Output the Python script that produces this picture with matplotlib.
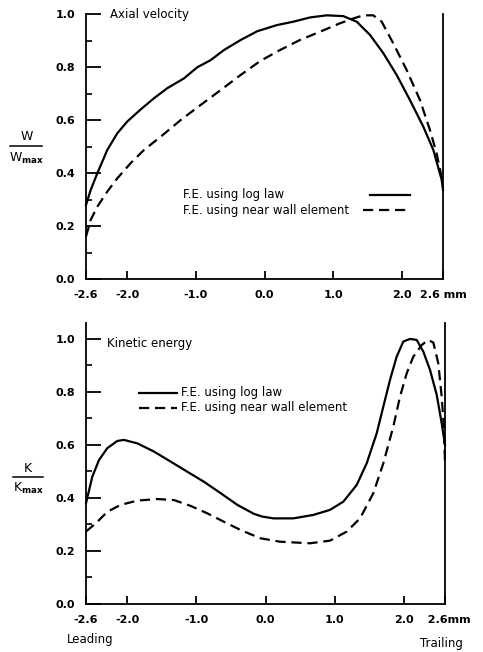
import numpy as np
import matplotlib
matplotlib.use("Agg")
import matplotlib.pyplot as plt
from matplotlib.lines import Line2D

plt.rcParams['font.family'] = ['DejaVu Sans']
plt.rcParams['mathtext.fontset'] = 'dejavusans'
plt.rcParams['mathtext.default'] = 'regular'

# ---------------- data ----------------
# Axial velocity, F.E. using log law
w_log_x = [-2.6, -2.532, -2.435, -2.29, -2.144, -2.0, -1.803, -1.61, -1.416, -1.173,
           -0.979, -0.784, -0.59, -0.347, -0.105, 0.178, 0.42, 0.663, 0.906, 1.148,
           1.343, 1.537, 1.731, 1.925, 2.119, 2.313, 2.459, 2.581, 2.6]
w_log_y = [0.279, 0.336, 0.399, 0.487, 0.55, 0.594, 0.64, 0.682, 0.72, 0.757,
           0.799, 0.826, 0.864, 0.902, 0.935, 0.958, 0.971, 0.987, 0.995, 0.992,
           0.971, 0.921, 0.852, 0.77, 0.675, 0.575, 0.487, 0.374, 0.336]
# Axial velocity, F.E. using near wall element
w_nw_x = [-2.6, -2.532, -2.435, -2.29, -2.144, -1.95, -1.755, -1.512, -1.22, -0.929,
          -0.638, -0.347, -0.06, 0.226, 0.517, 0.808, 1.1, 1.294, 1.439, 1.585,
          1.707, 1.876, 2.07, 2.265, 2.41, 2.507, 2.6]
w_nw_y = [0.16, 0.223, 0.273, 0.33, 0.38, 0.437, 0.487, 0.537, 0.60, 0.657,
          0.713, 0.77, 0.823, 0.864, 0.902, 0.933, 0.965, 0.983, 0.995, 0.995,
          0.971, 0.889, 0.789, 0.675, 0.562, 0.474, 0.361]

# Kinetic energy, F.E. using log law
k_log_x = [-2.6, -2.509, -2.412, -2.291, -2.147, -2.05, -1.857, -1.615, -1.373, -1.133,
           -0.891, -0.649, -0.408, -0.167, -0.05, 0.113, 0.403, 0.692, 0.934, 1.127,
           1.321, 1.466, 1.611, 1.707, 1.803, 1.90, 1.996, 2.093, 2.19, 2.286,
           2.383, 2.48, 2.552, 2.6]
k_log_y = [0.38, 0.48, 0.543, 0.588, 0.615, 0.619, 0.606, 0.575, 0.537, 0.499,
           0.461, 0.418, 0.374, 0.34, 0.33, 0.323, 0.323, 0.336, 0.355, 0.386,
           0.449, 0.531, 0.644, 0.745, 0.845, 0.933, 0.99, 1.0, 0.996, 0.952,
           0.883, 0.789, 0.682, 0.60]
# Kinetic energy, F.E. using near wall element
k_nw_x = [-2.6, -2.436, -2.291, -2.097, -1.857, -1.567, -1.325, -1.084, -0.843, -0.601,
          -0.36, -0.075, 0.21, 0.645, 0.934, 1.176, 1.369, 1.562, 1.707, 1.851,
          1.948, 2.045, 2.141, 2.262, 2.358, 2.431, 2.503, 2.552, 2.586, 2.6]
k_nw_y = [0.273, 0.31, 0.348, 0.374, 0.39, 0.396, 0.392, 0.37, 0.342, 0.31,
          0.279, 0.248, 0.235, 0.229, 0.239, 0.273, 0.323, 0.418, 0.531, 0.669,
          0.782, 0.87, 0.933, 0.977, 0.996, 0.986, 0.908, 0.782, 0.657, 0.53]

xtick_pos = [-2.6, -2.0, -1.0, 0.0, 1.0, 2.0, 2.6]
xtick_top = ['-2.6', '-2.0', '-1.0', '0.0', '1.0', '2.0', '2.6 mm']
xtick_bot = ['-2.6', '-2.0', '-1.0', '0.0', '1.0', '2.0', '  2.6mm']
ytick_pos = [0.0, 0.2, 0.4, 0.6, 0.8, 1.0]
ytick_lab = ['0.0', '0.2', '0.4', '0.6', '0.8', '1.0']
yminor_pos = [0.1, 0.3, 0.5, 0.7, 0.9]
legend_labels = ['F.E. using log law', 'F.E. using near wall element']

W, H = 483, 652
fig = plt.figure(figsize=(W / 100, H / 100), dpi=100)


def fx(px):
    return px / W


def fy(py):
    return 1 - py / H


ax1 = fig.add_axes([fx(86), fy(279), 357 / W, 265 / H])
ax2 = fig.add_axes([fx(86), fy(604), 359 / W, 281 / H])

LW = 1.6
DASH = (0, (4.6, 2.6))


def style(ax, ytop, xlabels):
    ax.set_xlim(-2.6, 2.6)
    ax.set_ylim(0, ytop)
    ax.spines['top'].set_visible(False)
    for s in ['left', 'right', 'bottom']:
        ax.spines[s].set_linewidth(1.3)
    ax.set_xticks(xtick_pos)
    ax.set_xticklabels(xlabels, fontsize=8, fontweight='bold')
    ax.set_yticks(ytick_pos)
    ax.set_yticklabels(ytick_lab, fontsize=8, fontweight='bold')
    ax.set_yticks(yminor_pos, minor=True)
    ax.tick_params(axis='x', which='major', direction='in', length=6, width=1.3, pad=8)
    ax.tick_params(axis='y', which='major', direction='in', length=11, width=1.3, pad=8)
    ax.tick_params(axis='y', which='minor', direction='in', length=4.5, width=1.2)
    ax.tick_params(axis='x', which='minor', bottom=False)


style(ax1, 1.0, xtick_top)
style(ax2, 1.06, xtick_bot)

# curves
ax1.plot(w_log_x, w_log_y, color='black', lw=LW, clip_on=False, solid_joinstyle='round')
ax1.plot(w_nw_x, w_nw_y, color='black', lw=LW, ls=DASH, clip_on=False)
ax2.plot(k_log_x, k_log_y, color='black', lw=LW, clip_on=False, solid_joinstyle='round')
ax2.plot(k_nw_x, k_nw_y, color='black', lw=LW, ls=DASH, clip_on=False)

# titles inside
ax1.text(0.067, 1.0, 'Axial velocity', transform=ax1.transAxes, fontsize=8.5,
         va='center', ha='left')
ax2.text(0.058, 0.981 / 1.06, 'Kinetic energy', transform=ax2.transAxes, fontsize=8.5,
         va='center', ha='left')

# legend top: text left, keys on the right
for i, (lab, ls) in enumerate(zip(legend_labels, ['-', DASH])):
    yy = [0.317, 0.260][i]
    ax1.text(0.272, yy, lab, transform=ax1.transAxes, fontsize=8.5, va='center', ha='left')
    x0 = [0.796, 0.776][i]
    ax1.add_line(Line2D([x0, 0.908], [yy, yy], transform=ax1.transAxes,
                        color='black', lw=LW, ls=ls))

# legend bottom: keys left, text after
for i, (lab, ls) in enumerate(zip(legend_labels, ['-', DASH])):
    yy = [(604 - 393) / 281, (604 - 408) / 281][i]
    ax2.add_line(Line2D([0.148, 0.253], [yy, yy], transform=ax2.transAxes,
                        color='black', lw=LW, ls=ls))
    ax2.text(0.265, yy, lab, transform=ax2.transAxes, fontsize=8.5, va='center', ha='left')


# y-axis fraction labels
def frac(cx, y_num, y_line, y_den, x0, x1, num, den):
    fig.text(fx(cx), fy(y_num), num, fontsize=9, ha='center', va='center')
    fig.add_artist(Line2D([fx(x0), fx(x1)], [fy(y_line), fy(y_line)], color='black', lw=1.1))
    fig.text(fx(cx), fy(y_den), den, fontsize=9, ha='center', va='center')


frac(27, 137, 146, 158, 10, 42, 'W', r'W$_{\mathbf{max}}$')
frac(28, 469, 477, 488, 13, 43, 'K', r'K$_{\mathbf{max}}$')

fig.text(fx(67), fy(640), 'Leading', fontsize=8.5, ha='left', va='center')
fig.text(fx(463), fy(643), 'Trailing', fontsize=8.5, ha='right', va='center')

fig.savefig('out.png', dpi=100)
